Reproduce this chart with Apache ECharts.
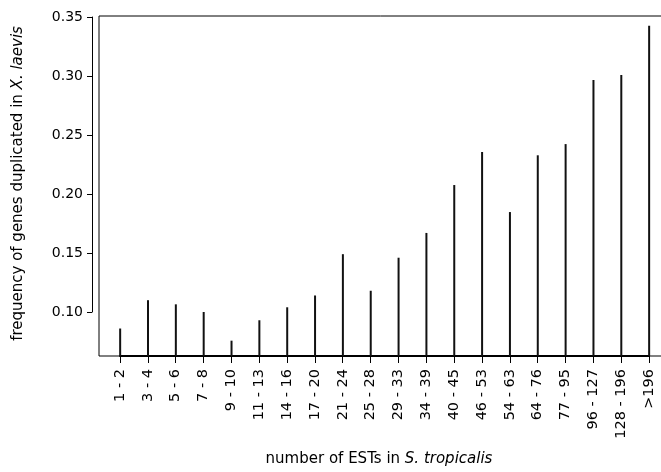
<!DOCTYPE html>
<html>
<head>
<meta charset="utf-8">
<script src="https://cdn.jsdelivr.net/npm/echarts@6/dist/echarts.min.js"></script>
<style>
  html, body { margin: 0; padding: 0; background: #fff; }
  #chart { width: 661px; height: 472px; }
</style>
</head>
<body>
<div id="chart"></div>
<script>
// EST count bins in S. tropicalis
const categories = ['1 - 2', '3 - 4', '5 - 6', '7 - 8', '9 - 10', '11 - 13', '14 - 16', '17 - 20',
  '21 - 24', '25 - 28', '29 - 33', '34 - 39', '40 - 45', '46 - 53', '54 - 63', '64 - 76',
  '77 - 95', '96 - 127', '128 - 196', '>196'];

// frequency of genes duplicated in X. laevis, per bin
const frequencies = [0.086, 0.110, 0.1065, 0.100, 0.0757, 0.093, 0.104, 0.114,
  0.149, 0.118, 0.146, 0.167, 0.2076, 0.2356, 0.1847, 0.2328,
  0.2423, 0.2966, 0.3008, 0.3426];

// labelled y ticks
const yTickValues = [0.10, 0.15, 0.20, 0.25, 0.30, 0.35];

const FONT = 'DejaVu Sans';
const INK = '#000';

const chart = echarts.init(document.getElementById('chart'), null, { renderer: 'canvas' });

chart.setOption({
  animation: false,
  backgroundColor: '#fff',
  grid: [
    // plotting box (its right side runs past the canvas edge)
    { left: 99, top: 16, width: 571.3, height: 340, show: true, borderColor: INK, borderWidth: 1,
      backgroundColor: 'transparent', outerBoundsMode: 'none', containLabel: false },
    // axis frame: x from first to last bin, y from 0.10 to 0.35
    { left: 120, right: 12, top: 17, bottom: 160, outerBoundsMode: 'none', containLabel: false }
  ],
  xAxis: [
    {
      gridIndex: 0, type: 'value', min: 0.24, max: 20.76,
      axisLine: { show: false }, axisTick: { show: false }, axisLabel: { show: false },
      splitLine: { show: false }
    },
    {
      gridIndex: 1, type: 'category', data: categories, boundaryGap: false,
      position: 'bottom', offset: 44,
      axisLine: { show: true, lineStyle: { color: INK, width: 2 } },
      axisTick: { show: true, interval: 0, length: 7, lineStyle: { color: INK, width: 1 } },
      axisLabel: { interval: 0, rotate: 90, margin: 13, fontFamily: FONT, fontSize: 14.5, color: INK },
      splitLine: { show: false },
      name: '{n|number of ESTs in }{i|S. tropicalis}',
      nameLocation: 'middle', nameGap: 96,
      nameTextStyle: {
        padding: [0, 11, 0, 0],
        rich: {
          n: { fontFamily: FONT, fontSize: 15, color: INK },
          i: { fontFamily: FONT, fontSize: 15, color: INK, fontStyle: 'italic' }
        }
      }
    }
  ],
  yAxis: [
    {
      gridIndex: 0, type: 'value', min: 0.06271, max: 0.35085,
      axisLine: { show: false }, axisTick: { show: false }, axisLabel: { show: false },
      splitLine: { show: false },
      name: '{n|frequency of genes duplicated in }{i|X. laevis}',
      nameLocation: 'middle', nameRotate: 90, nameGap: 73,
      nameTextStyle: {
        padding: [0, 0, 0, 5],
        rich: {
          n: { fontFamily: FONT, fontSize: 15, color: INK },
          i: { fontFamily: FONT, fontSize: 15, color: INK, fontStyle: 'italic' }
        }
      }
    },
    {
      gridIndex: 1, type: 'value', min: 0.10, max: 0.35, offset: 28,
      axisLine: { show: true, lineStyle: { color: INK, width: 1 } },
      axisTick: { show: true, length: 5, customValues: yTickValues, lineStyle: { color: INK, width: 1 } },
      axisLabel: {
        customValues: yTickValues, margin: 9, fontFamily: FONT, fontSize: 14, color: INK,
        formatter: v => v.toFixed(2)
      },
      splitLine: { show: false }
    }
  ],
  series: [
    {
      type: 'bar', xAxisIndex: 0, yAxisIndex: 0,
      data: frequencies.map((v, i) => [i + 1, v]),
      barWidth: 2, clip: true,
      itemStyle: { color: '#111' }
    }
  ]
});
</script>
</body>
</html>
